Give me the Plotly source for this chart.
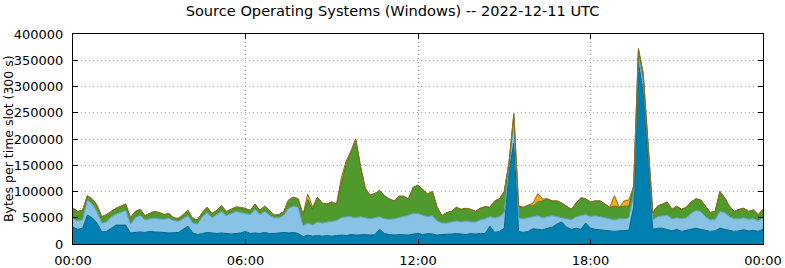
import pandas as pd
import plotly.graph_objects as go

# 10-minute samples, values in thousands of bytes per 300 s slot (cumulative layer tops)
times = pd.date_range("2022-12-11 00:00", periods=145, freq="10min")

dark_top = [32,28,30,55,50,40, 23,24,30,36,36,36, 21,22,23,22,24,23, 23,22,21,21,22,28,
            34,21,18,20,22,21, 20,21,20,19,20,21, 24,20,21,20,22,20, 20,21,22,21,22,20,
            14,17,15,16,15,16, 15,16,17,16,18,17, 18,18,17,18,28,20, 18,17,18,18,17,19,
            20,18,20,19,17,18, 18,19,20,19,18,20, 19,20,20,34,22,24, 30,140,192,24,22,24,
            29,28,27,30,32,38, 42,32,28,30,28,40, 30,28,27,26,26,24, 25,26,26,70,345,290,
            170,28,30,30,28,25, 28,24,26,28,30,28, 26,24,25,30,28,26, 24,25,27,25,26,24, 28]

light_top = [48,44,46,84,76,62, 40,42,52,57,60,64, 38,50,55,46,48,49, 48,47,49,45,43,48,
             54,40,38,52,60,50, 56,62,54,58,62,60, 58,56,66,56,62,55, 50,50,55,68,72,70,
             35,40,36,42,40,42, 44,45,50,52,52,50, 52,50,48,50,52,48, 47,48,50,52,55,58,
             58,55,52,54,44,40, 40,42,44,42,44,42, 42,46,48,52,50,52, 60,148,232,50,48,50,
             52,54,50,52,54,52, 50,48,46,52,54,56, 52,54,52,50,48,46, 48,48,50,95,360,310,
             185,46,52,54,55,48, 50,48,50,58,64,62, 52,46,46,62,60,52, 48,48,50,47,48,44, 50]

green_top = [68,62,64,92,86,74, 52,56,62,68,72,76, 50,62,66,54,58,62, 60,56,58,50,48,56,
             64,48,46,60,70,58, 64,73,62,66,69,68, 66,64,76,64,72,64, 55,56,62,84,89,86,
             56,84,66,89,78,76, 80,76,116,152,174,200, 148,106,93,96,102,92, 86,82,91,91,86,108,
             112,104,95,100,70,54, 60,62,70,66,68,66, 62,68,71,70,82,86, 100,156,248,72,70,74,
             72,80,82,86,82,82, 78,72,66,78,88,86, 80,82,82,76,70,72, 70,72,72,110,372,325,
             195,60,72,76,80,66, 72,66,70,80,86,84, 72,60,62,100,88,72, 62,66,68,62,65,56, 66]

orange = [0]*145
for i, v in {34: 2, 35: 2, 36: 2, 49: 11, 50: 4, 56: 10, 57: 6, 58: 3,
             96: 6, 97: 16, 98: 4, 113: 20, 115: 10, 116: 12}.items():
    orange[i] = v

orange_top = [g + o for g, o in zip(green_top, orange)]

scale = 1000
layers = [
    ("dark", dark_top, "#0080b0", "#00628a", "tozeroy"),
    ("light", light_top, "#88c2e4", "#5f9fc0", "tonexty"),
    ("green", green_top, "#4f9a2c", "#3d7a22", "tonexty"),
    ("orange", orange_top, "#f5a623", "#9a6a18", "tonexty"),
]

fig = go.Figure()
for name, vals, fillc, linec, fillmode in layers:
    fig.add_trace(go.Scatter(
        x=times, y=[v * scale for v in vals], mode="lines", name=name,
        fill=fillmode, fillcolor=fillc, line=dict(color=linec, width=1),
        showlegend=False, hoverinfo="skip"))

font = "DejaVu Sans"
fig.update_layout(
    width=785, height=268,
    margin=dict(l=73, r=22, t=34, b=24),
    paper_bgcolor="white", plot_bgcolor="white",
    font=dict(family=font, size=13, color="black"),
    title=dict(text="Source Operating Systems (Windows) -- 2022-12-11 UTC",
               x=0.5, xanchor="center", y=1 - 11 / 268, yanchor="middle",
               font=dict(family=font, size=14.6)),
    annotations=[dict(text="Bytes per time slot (300 s)", textangle=-90,
                      xref="paper", yref="paper", x=(8 - 73) / 690, y=0.5,
                      xanchor="center", yanchor="middle", showarrow=False,
                      font=dict(family=font, size=12.5))],
)
fig.update_xaxes(
    range=[times[0], times[-1]], type="date", automargin=False,
    tickformat="%H:%M", dtick=6 * 3600 * 1000, tick0=times[0],
    showgrid=True, gridcolor="#a8a8a8", griddash="1px,3px", gridwidth=1,
    showline=True, linecolor="black", linewidth=1, mirror="ticks",
    ticks="inside", ticklen=5, tickcolor="black", ticklabelstandoff=4,
    tickfont=dict(family=font, size=13), zeroline=False,
)
fig.update_yaxes(
    range=[0, 400000], dtick=50000, tickformat="d", automargin=False,
    showgrid=True, gridcolor="#a8a8a8", griddash="1px,3px", gridwidth=1,
    showline=True, linecolor="black", linewidth=1, mirror="ticks",
    ticks="inside", ticklen=5, tickcolor="black", ticklabelstandoff=6,
    tickfont=dict(family=font, size=13), zeroline=False,
)

fig.write_html("out.html")
